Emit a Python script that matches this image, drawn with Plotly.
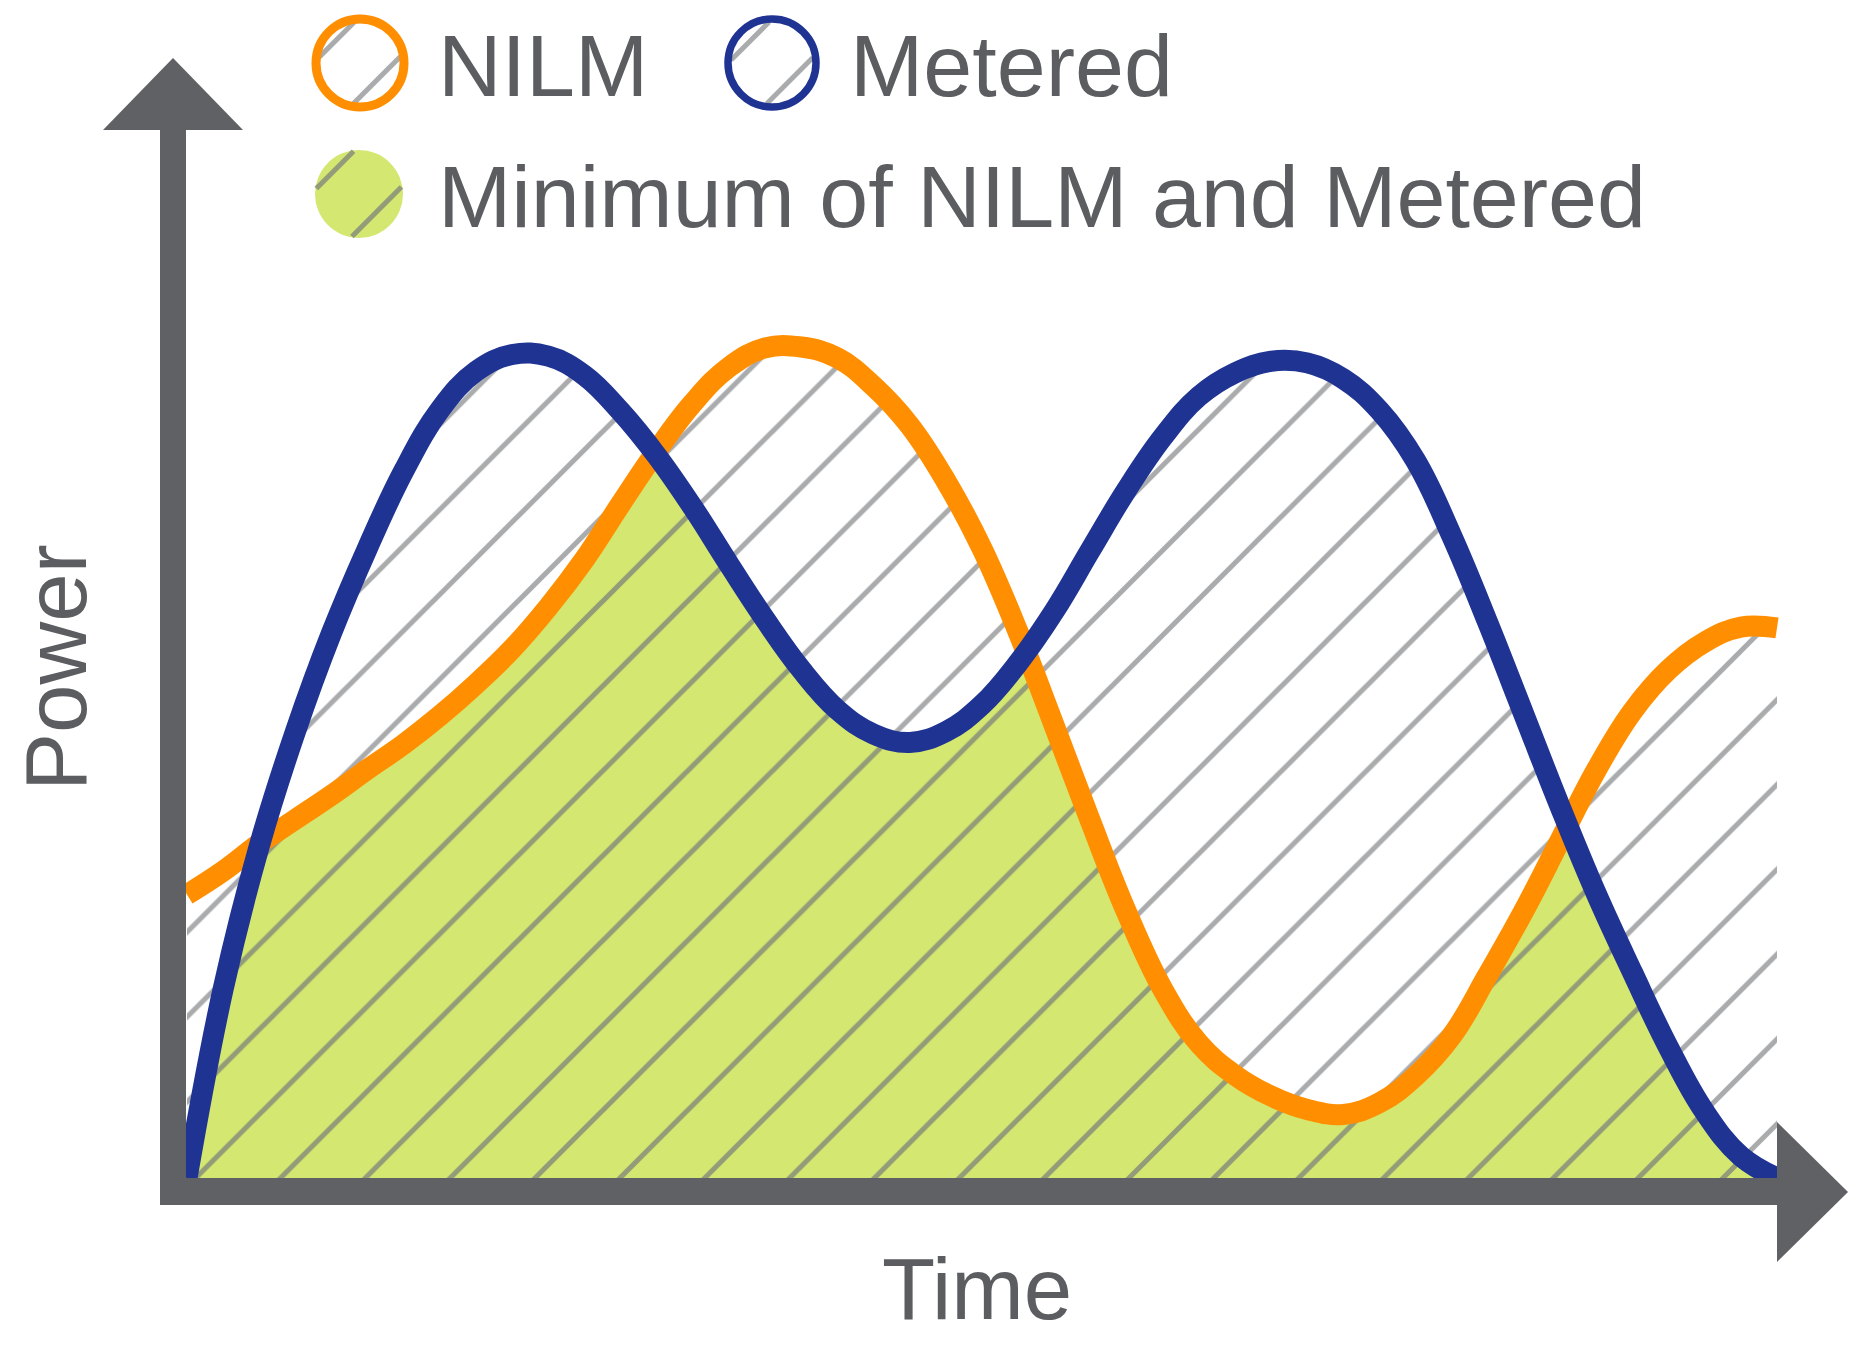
import numpy as np
import plotly.graph_objects as go

# ---- data (time in equal steps 0..44, power 0..100) ----
time = [0, 1, 2, 3, 4, 5, 6, 7, 8, 9, 10, 11, 12, 13, 14, 15, 16, 17, 18, 19, 20, 21,
        22, 23, 24, 25, 26, 27, 28, 29, 30, 31, 32, 33, 34, 35, 36, 37, 38, 39, 40, 41,
        42, 43, 44]
nilm = [33.9, 36.7, 40.0, 42.9, 45.8, 48.9, 51.9, 55.3, 59.1, 63.3,
        68.3, 74.0, 80.6, 87.0, 92.7, 97.0, 99.3, 99.4, 98.1, 94.7,
        90.0, 83.4, 75.3, 65.3, 54.1, 42.7, 31.8, 22.6, 16.1, 12.3,
        9.8, 8.2, 7.6, 9.0, 12.2, 17.0, 24.3, 32.0, 40.4, 48.8,
        55.8, 60.8, 64.1, 65.9, 65.8]
metered = [0, 22.6, 39.7, 53.4, 65.2, 75.4, 84.6, 91.9, 96.5, 98.5,
           98.3, 96.0, 91.7, 86.4, 80.2, 73.4, 66.8, 60.8, 56.0, 53.1,
           52.1, 53.4, 56.6, 61.6, 67.8, 75.1, 82.3, 88.6, 93.5, 96.3,
           97.7, 97.5, 95.6, 91.8, 85.8, 76.8, 66.4, 55.4, 44.4, 34.0,
           24.6, 15.6, 7.9, 2.6, 0]

legend_labels = ["NILM", "Metered", "Minimum of NILM and Metered"]
x_title = "Time"
y_title = "Power"

ORANGE = "#ff8f00"
BLUE = "#1f3392"
GREEN = "#d4e770"
AXIS = "#5f6164"
TEXT = "#5b5d60"
HATCH = "#aaabad"
HATCH_ON_GREEN = "#939c78"
FONT = "Liberation Sans, Arial, sans-serif"
SMOOTH = 1.15

# page geometry (browser body margin is 8px)
OFF = 8
W, H = 1869 - 2 * OFF, 1351 - 2 * OFF
X0_PX, X1_PX = 187, 1777     # first / last time sample
Y0_PX, Y1_PX = 1178, 342     # power 0 / 100
T_MAX = time[-1]


def fx(px):
    return (px - OFF) / W


def fy(py):
    return 1 - (py - OFF) / H


def t_at(px):
    return (px - X0_PX) / (X1_PX - X0_PX) * T_MAX


def p_at(py):
    return (Y0_PX - py) / (Y0_PX - Y1_PX) * 100


def envelope(t, a, b, fn):
    # pointwise max/min of two series, with the crossing points added
    xs, ys = [], []
    for i in range(len(t)):
        if i > 0:
            d0, d1 = a[i-1] - b[i-1], a[i] - b[i]
            if d0 * d1 < 0:
                f = d0 / (d0 - d1)
                xs.append(t[i-1] + f * (t[i] - t[i-1]))
                ys.append(a[i-1] + f * (a[i] - a[i-1]))
        xs.append(t[i])
        ys.append(fn(a[i], b[i]))
    return xs, ys


hx, hy = envelope(time, nilm, metered, max)
gx, gy = envelope(time, nilm, metered, min)

fig = go.Figure()
# hatched area under both curves
fig.add_trace(go.Scatter(x=hx, y=hy, mode="lines", fill="tozeroy",
                         line=dict(width=0, shape="spline", smoothing=SMOOTH, color="rgba(0,0,0,0)"),
                         fillcolor="white",
                         fillpattern=dict(shape="/", size=60, solidity=0.085,
                                          fgcolor=HATCH, bgcolor="white",
                                          fillmode="replace"),
                         hoverinfo="skip"))
# green minimum area
fig.add_trace(go.Scatter(x=gx, y=gy, mode="lines", fill="tozeroy",
                         line=dict(width=0, shape="spline", smoothing=SMOOTH, color="rgba(0,0,0,0)"),
                         fillcolor=GREEN,
                         fillpattern=dict(shape="/", size=60, solidity=0.085,
                                          fgcolor=HATCH_ON_GREEN, bgcolor=GREEN,
                                          fillmode="replace"),
                         hoverinfo="skip"))
fig.add_trace(go.Scatter(x=time, y=nilm, mode="lines", name=legend_labels[0],
                         line=dict(color=ORANGE, width=21, shape="spline", smoothing=SMOOTH)))
fig.add_trace(go.Scatter(x=time, y=metered, mode="lines", name=legend_labels[1],
                         line=dict(color=BLUE, width=21, shape="spline", smoothing=SMOOTH)))

shapes = []
# axes with arrow heads
shapes.append(dict(type="rect", xref="paper", yref="paper", x0=fx(160), x1=fx(186),
                   y0=fy(1205), y1=fy(128), fillcolor=AXIS, line=dict(width=0)))
shapes.append(dict(type="rect", xref="paper", yref="paper", x0=fx(160), x1=fx(1780),
                   y0=fy(1205), y1=fy(1178), fillcolor=AXIS, line=dict(width=0)))
shapes.append(dict(type="path", xref="paper", yref="paper",
                   path=f"M{fx(103)},{fy(130)} L{fx(173)},{fy(58)} L{fx(243)},{fy(130)} Z",
                   fillcolor=AXIS, line=dict(width=0)))
shapes.append(dict(type="path", xref="paper", yref="paper",
                   path=f"M{fx(1777)},{fy(1122)} L{fx(1848)},{fy(1192)} L{fx(1777)},{fy(1262)} Z",
                   fillcolor=AXIS, line=dict(width=0)))


def chord(cx, cy, r, d, color, width):
    s = np.sqrt(2) / 2
    h = np.sqrt(max(r * r - d * d, 0))
    mx, my = cx + d * s, cy + d * s
    return dict(type="line", xref="paper", yref="paper",
                x0=fx(mx - h * s), y0=fy(my + h * s), x1=fx(mx + h * s), y1=fy(my - h * s),
                line=dict(color=color, width=width))


def circle(cx, cy, r, **kw):
    return dict(type="circle", xref="paper", yref="paper",
                x0=fx(cx - r), x1=fx(cx + r), y0=fy(cy + r), y1=fy(cy - r), **kw)


# legend symbols
for cx, cy, col, lw, ds in [(360, 63, ORANGE, 9, (-33, 24)), (772, 63, BLUE, 7.5, (-31, 25))]:
    for d in ds:
        shapes.append(chord(cx, cy, 41, d, HATCH, 5))
    shapes.append(circle(cx, cy, 44, line=dict(color=col, width=lw), fillcolor="rgba(0,0,0,0)"))
shapes.append(circle(359, 194, 44, line=dict(width=0), fillcolor=GREEN))
for d in (-34, 25):
    shapes.append(chord(359, 194, 43, d, HATCH_ON_GREEN, 5))

legend_font = dict(family=FONT, size=88, color=TEXT)
title_font = dict(family=FONT, size=87, color=TEXT)
annotations = [
    dict(text=legend_labels[0], x=fx(436), y=fy(66), xanchor="left", yanchor="middle", font=legend_font),
    dict(text=legend_labels[1], x=fx(848), y=fy(66), xanchor="left", yanchor="middle", font=legend_font),
    dict(text=legend_labels[2], x=fx(436), y=fy(197), xanchor="left", yanchor="middle", font=legend_font),
    dict(text=x_title, x=fx(977), y=fy(1288), xanchor="center", yanchor="middle", font=title_font),
    dict(text=y_title, x=fx(55), y=fy(668), xanchor="center", yanchor="middle", textangle=-90,
         font=title_font),
]
for a in annotations:
    a.update(xref="paper", yref="paper", showarrow=False)

fig.update_layout(
    width=W, height=H, autosize=False,
    margin=dict(l=0, r=0, t=0, b=0, pad=0),
    paper_bgcolor="white", plot_bgcolor="white",
    showlegend=False,
    xaxis=dict(range=[t_at(OFF), t_at(OFF + W)], domain=[0, 1], visible=False, fixedrange=True),
    yaxis=dict(range=[p_at(OFF + H), p_at(OFF)], domain=[0, 1], visible=False, fixedrange=True),
    shapes=shapes,
    annotations=annotations,
)

fig.write_html("out.html", config={"displayModeBar": False})
